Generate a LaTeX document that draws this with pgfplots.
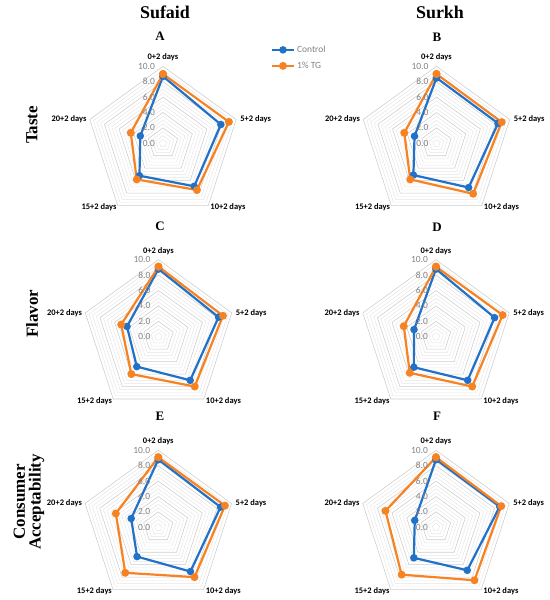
\documentclass[border=0pt]{standalone}
\usepackage{pgfplots}
\pgfplotsset{compat=1.18}
\usepgfplotslibrary{polar}
\usepackage{fontspec}
\setmainfont{Liberation Serif}
\newfontfamily\calibri{Carlito}
\definecolor{cblue}{RGB}{34,113,200}
\definecolor{corange}{RGB}{247,130,34}
\definecolor{tickgray}{RGB}{130,130,130}

\pgfplotsset{
  radar/.style={width=154bp, height=154bp, scale only axis, hide axis, clip=false,
    ymin=0, ymax=10, xmin=0, xmax=360, anchor=center},
  legend image code/.code={\draw[mark repeat=2,mark phase=2,#1] plot coordinates {(0bp,0bp)(11bp,0bp)(22bp,0bp)};},
}
\tikzset{catlbl/.style={font=\calibri\bfseries\fontsize{8.5}{10}\selectfont, inner sep=0pt}}

\newcommand\radargrid{%
  \pgfplotsinvokeforeach{0.5,1,1.5,3,3.5,5,5.5,7,7.5,9,9.5,2.5,4.5,6.5,8.5}{%
    \addplot[forget plot, draw=black!10, line width=0.45bp] coordinates {(90,##1)(18,##1)(306,##1)(234,##1)(162,##1)(90,##1)};}%
  \pgfplotsinvokeforeach{2,4,6,8,10}{%
    \addplot[forget plot, draw=black!20, line width=0.55bp] coordinates {(90,##1)(18,##1)(306,##1)(234,##1)(162,##1)(90,##1)};}%
}
\newcommand\radarlabels{%
  \pgfplotsinvokeforeach{0,2,4,6,8,10}{%
    \node[anchor=east, inner sep=0pt, xshift=-8bp, text=tickgray, font=\calibri\fontsize{9.5}{11}\selectfont] at (axis cs:90,##1) {##1.0};}%
  \node[catlbl, anchor=base, yshift=6.5bp] at (axis cs:90,10) {0+2 days};
  \node[catlbl, anchor=west, xshift=4bp] at (axis cs:18,10) {5+2 days};
  \node[catlbl, anchor=west, xshift=2bp, yshift=-2bp] at (axis cs:306,10) {10+2 days};
  \node[catlbl, anchor=east, xshift=-1bp, yshift=-2bp] at (axis cs:234,10) {15+2 days};
  \node[catlbl, anchor=east, xshift=-3bp] at (axis cs:162,10) {20+2 days};
}
% #1 cx, #2 cy (pixels from top-left), #3 control, #4 1% TG, #5 extra options
\newcommand\radar[5]{%
  \begin{polaraxis}[radar, at={(#1bp,-#2bp)}, #5]
    \radargrid
    \addplot[cblue, line width=2.2bp, mark=*, mark size=2.6bp, mark options={solid}] coordinates {#3};
    \addplot[corange, line width=2.2bp, mark=*, mark size=2.8bp, mark options={solid}] coordinates {#4};
    \radarlabels
  \end{polaraxis}}

\begin{document}
\begin{tikzpicture}
\useasboundingbox (0,0) rectangle (550bp,-600bp);

% column titles
\node[font=\bfseries\fontsize{18}{20}\selectfont] at (165bp,-12bp) {Sufaid};
\node[font=\bfseries\fontsize{18}{20}\selectfont] at (440bp,-12bp) {Surkh};
% panel letters
\node[font=\bfseries\fontsize{13}{15}\selectfont] at (160bp,-36bp) {A};
\node[font=\bfseries\fontsize{13}{15}\selectfont] at (437bp,-37bp) {B};
\node[font=\bfseries\fontsize{13}{15}\selectfont] at (160bp,-226bp) {C};
\node[font=\bfseries\fontsize{13}{15}\selectfont] at (437bp,-227bp) {D};
\node[font=\bfseries\fontsize{13}{15}\selectfont] at (160bp,-416bp) {E};
\node[font=\bfseries\fontsize{13}{15}\selectfont] at (437bp,-416bp) {F};
% row labels
\node[rotate=90, font=\bfseries\fontsize{17}{19}\selectfont] at (32bp,-125bp) {Taste};
\node[rotate=90, font=\bfseries\fontsize{17}{19}\selectfont] at (32bp,-314bp) {Flavor};
\node[rotate=90, align=center, font=\bfseries\fontsize{17}{16}\selectfont] at (29bp,-502bp) {Consumer\\Acceptability};

% A
\radar{163}{143.3}
  {(90,8.7)(18,7.9)(306,6.9)(234,5.2)(162,3.1)(90,8.7)}
  {(90,9.0)(18,9.0)(306,7.5)(234,5.8)(162,4.4)(90,9.0)}
  {legend entries={Control,1\% TG},
   legend style={at={(axis description cs:1.18,1.16)}, anchor=north west, draw=none, fill=none,
     font=\calibri\fontsize{9.5}{11}\selectfont, text=tickgray, row sep=4bp, legend cell align=left}}
% B
\radar{436.5}{143.3}
  {(90,8.5)(18,8.4)(306,7.1)(234,5.1)(162,3.0)(90,8.5)}
  {(90,9.0)(18,8.9)(306,8.1)(234,5.8)(162,4.4)(90,9.0)}
  {}
% C
\radar{158.5}{336.7}
  {(90,8.8)(18,8.2)(306,7.0)(234,4.8)(162,4.3)(90,8.8)}
  {(90,9.1)(18,8.8)(306,8.0)(234,6.0)(162,5.1)(90,9.1)}
  {}
% D
\radar{436}{336.7}
  {(90,8.8)(18,8.0)(306,7.0)(234,4.9)(162,3.0)(90,8.8)}
  {(90,9.1)(18,9.1)(306,8.0)(234,5.8)(162,4.4)(90,9.1)}
  {}
% E
\radar{158.3}{527.3}
  {(90,8.8)(18,8.5)(306,7.1)(234,4.7)(162,3.7)(90,8.8)}
  {(90,9.1)(18,9.1)(306,8.0)(234,7.3)(162,5.8)(90,9.1)}
  {}
% F
\radar{436}{527.3}
  {(90,8.8)(18,8.7)(306,6.9)(234,4.9)(162,2.9)(90,8.8)}
  {(90,9.1)(18,8.9)(306,8.5)(234,7.6)(162,6.9)(90,9.1)}
  {}
\end{tikzpicture}
\end{document}
